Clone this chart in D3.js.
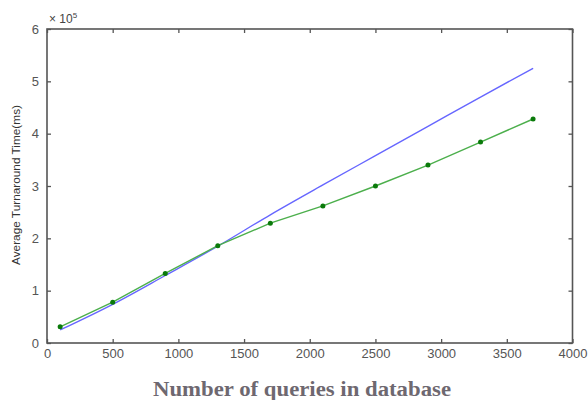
<!DOCTYPE html>
<html><head><meta charset="utf-8">
<script src="https://cdn.jsdelivr.net/npm/d3@7"></script>
<style>body{margin:0;background:#fff}svg{display:block}</style>
</head><body>
<svg id="c" width="588" height="400"></svg>
<script>
const queries = [100, 500, 900, 1300, 1700, 2100, 2500, 2900, 3300, 3700];
const greenSeries = [0.31, 0.78, 1.33, 1.86, 2.29, 2.62, 3.00, 3.40, 3.84, 4.28];
const blueSeries = [0.25, 0.74, 1.29, 1.85, 2.45, 3.02, 3.58, 4.14, 4.70, 5.25];
const xTicks = [0, 500, 1000, 1500, 2000, 2500, 3000, 3500, 4000];
const yTicks = [0, 1, 2, 3, 4, 5, 6];

const svg = d3.select("#c");
const L = 47, R = 572.5, T = 29, B = 343;
const x = d3.scaleLinear().domain([0, 4000]).range([L, R]);
const y = d3.scaleLinear().domain([0, 6]).range([B, T]);
const axisColor = "#555";

function styleAxis(g, showText) {
  g.select(".domain").remove();
  g.selectAll("line").attr("stroke", axisColor).attr("stroke-width", 1.3);
  g.selectAll("text").attr("fill", "#555").attr("font-family", "Liberation Sans, Arial, sans-serif").attr("font-size", 13);
  if (!showText) g.selectAll("text").remove();
}
svg.append("g").attr("transform", `translate(0,${B})`)
  .call(d3.axisBottom(x).tickValues(xTicks).tickSize(-4).tickPadding(6).tickFormat(d3.format("d")))
  .call(g => styleAxis(g, true));
svg.append("g").attr("transform", `translate(0,${T})`)
  .call(d3.axisTop(x).tickValues(xTicks).tickSize(-4))
  .call(g => styleAxis(g, false));
svg.append("g").attr("transform", `translate(${L},0)`)
  .call(d3.axisLeft(y).tickValues(yTicks).tickSize(-4).tickPadding(8).tickFormat(d3.format("d")))
  .call(g => styleAxis(g, true));
svg.append("g").attr("transform", `translate(${R},0)`)
  .call(d3.axisRight(y).tickValues(yTicks).tickSize(-4))
  .call(g => styleAxis(g, false));

svg.append("rect").attr("x", L).attr("y", T).attr("width", R - L).attr("height", B - T)
  .attr("fill", "none").attr("stroke", axisColor).attr("stroke-width", 1.6);

const blueData = queries.map((q, i) => [q, blueSeries[i]]);
const greenData = queries.map((q, i) => [q, greenSeries[i]]);

svg.append("path").datum(blueData)
  .attr("d", d3.line().x(d => x(d[0])).y(d => y(d[1])).curve(d3.curveMonotoneX))
  .attr("fill", "none").attr("stroke", "#6666ff").attr("stroke-width", 1.4);
svg.append("path").datum(greenData)
  .attr("d", d3.line().x(d => x(d[0])).y(d => y(d[1])))
  .attr("fill", "none").attr("stroke", "#4caf4c").attr("stroke-width", 1.4);
svg.selectAll("circle.g").data(greenData).enter().append("circle")
  .attr("cx", d => x(d[0])).attr("cy", d => y(d[1])).attr("r", 2.5).attr("fill", "#0a7a0a");

svg.append("text").attr("x", L + 2).attr("y", 23).attr("fill", "#444")
  .attr("font-family", "Liberation Sans, Arial, sans-serif").attr("font-size", 12)
  .html('× 10<tspan dy="-5" font-size="8">5</tspan>');

svg.append("text").attr("transform", "translate(20,185) rotate(-90)")
  .attr("text-anchor", "middle").attr("fill", "#333")
  .attr("font-family", "Liberation Sans Narrow, Liberation Sans, Arial, sans-serif").attr("font-size", 11)
  .attr("textLength", 160).attr("lengthAdjust", "spacingAndGlyphs")
  .text("Average Turnaround Time(ms)");

svg.append("text").attr("x", 302).attr("y", 396).attr("text-anchor", "middle")
  .attr("fill", "#6e6870").attr("font-family", "Liberation Serif, Times New Roman, serif")
  .attr("font-weight", "bold").attr("font-size", 20)
  .attr("textLength", 298).attr("lengthAdjust", "spacingAndGlyphs")
  .text("Number of queries in database");
</script>
</body></html>
